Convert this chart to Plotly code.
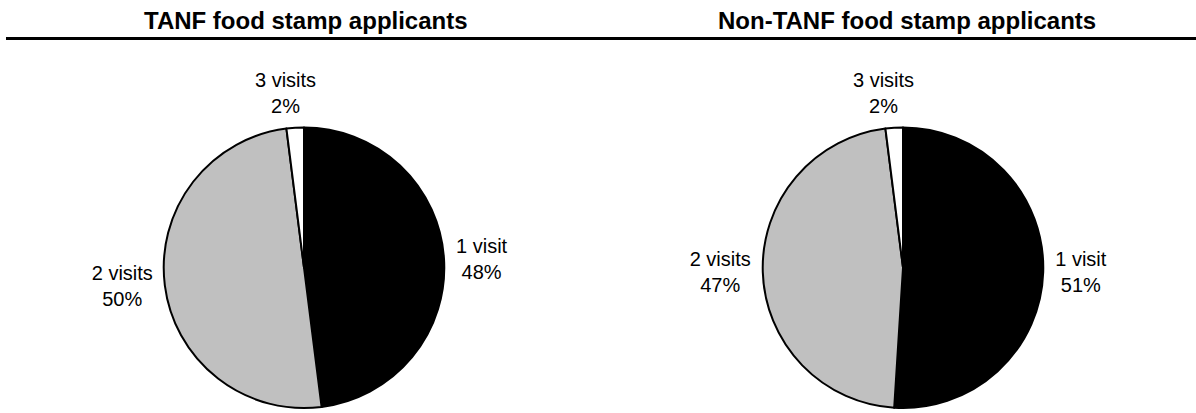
import plotly.graph_objects as go

visits = ["1 visit", "2 visits", "3 visits"]
tanf_pct = [48, 50, 2]
non_tanf_pct = [51, 47, 2]
titles = ["TANF food stamp applicants", "Non-TANF food stamp applicants"]

W, H = 1196, 413
slice_colors = ["#000000", "#C0C0C0", "#FFFFFF"]
font_family = "Liberation Sans, Arial, sans-serif"
label_font = dict(family=font_family, size=20, color="#000000")

fig = go.Figure()

domains = [[162 / W, 446 / W], [761 / W, 1045 / W]]
pie_centers = [304 / W, 903 / W]
for vals, dom, pc in zip([tanf_pct, non_tanf_pct], domains, pie_centers):
    fig.add_trace(go.Pie(
        labels=visits,
        values=vals,
        sort=False,
        direction="clockwise",
        rotation=0,
        marker=dict(colors=slice_colors, line=dict(color="#000000", width=2)),
        texttemplate="%{label}<br>%{value}%",
        # the thin last slice gets its label centred above the pie instead
        textposition=["outside", "outside", "none"],
        outsidetextfont=label_font,
        hoverinfo="label+value",
        showlegend=False,
        domain=dict(x=dom, y=[1 - 413 / H, 1 - 129 / H]),
    ))
    fig.add_annotation(
        x=pc - 19 / W, y=1 - 94 / H, xref="paper", yref="paper",
        text=f"{visits[2]}<br>{vals[2]}%", showarrow=False,
        font=label_font, xanchor="center", yanchor="middle",
    )

title_centers = [306 / W, 907 / W]
for t, cx in zip(titles, title_centers):
    fig.add_annotation(
        x=cx, y=1 - 21 / H, xref="paper", yref="paper",
        text=f"<b>{t}</b>", showarrow=False,
        font=dict(family=font_family, size=24, color="#000000"),
        xanchor="center", yanchor="middle",
    )

fig.add_shape(type="line", xref="paper", yref="paper",
              x0=6 / W, x1=1, y0=1 - 39 / H, y1=1 - 39 / H,
              line=dict(color="#000000", width=3))

fig.update_layout(
    width=W, height=H,
    margin=dict(l=0, r=0, t=0, b=0),
    paper_bgcolor="#FFFFFF",
    plot_bgcolor="#FFFFFF",
    font=dict(family=font_family),
)

fig.write_html("out.html")
